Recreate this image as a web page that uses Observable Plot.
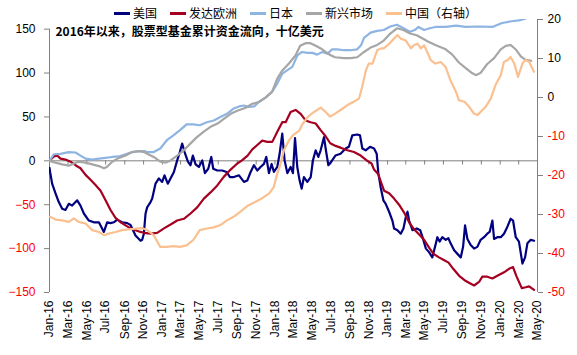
<!DOCTYPE html>
<html><head><meta charset="utf-8">
<script src="https://cdn.jsdelivr.net/npm/d3@7"></script>
<script src="https://cdn.jsdelivr.net/npm/@observablehq/plot@0.6"></script>
<style>
body{margin:0;background:#fff;}
#wrap{position:relative;width:577px;height:355px;}
#legend{position:absolute;top:5px;left:114px;display:flex;align-items:center;font-family:"Noto Sans CJK SC",sans-serif;font-size:12px;line-height:16px;color:#000;white-space:nowrap;}
#legend .item{display:flex;align-items:center;margin-right:13px;}
#legend .sw{width:16px;height:3px;margin-right:3px;}
</style></head>
<body><div id="wrap"><div id="legend"></div></div>
<script>
// months since Jan-2016, value
const usData = [[0,-8],[0.07,-13],[0.28,-26],[0.64,-37],[0.99,-47],[1.35,-54.5],[1.7,-56],[2.06,-49],[2.41,-51],[2.95,-45],[3.3,-51],[3.66,-60],[4.19,-68],[4.72,-70],[5.26,-70],[5.79,-81],[6.14,-70],[6.5,-71],[6.85,-70],[7.21,-67],[7.74,-70],[8.28,-71],[8.63,-73],[9.16,-85],[9.7,-91],[9.87,-90],[10.05,-83],[10.23,-60],[10.4,-53],[10.76,-47],[10.94,-43],[11.29,-26],[11.65,-20],[12.0,-24],[12.25,-16.5],[12.6,-26],[12.96,-18.6],[13.25,-12.7],[13.6,0.5],[13.88,10],[14.13,19.6],[14.39,10],[14.74,-1],[15.02,-5],[15.27,6],[15.56,-4],[15.91,-7],[16.27,0.5],[16.55,-14],[16.91,-9],[17.23,4.4],[17.44,-9],[17.87,-11],[18.4,-11],[18.86,-12.7],[19.22,-18.5],[19.64,-18.5],[20.18,-16.5],[20.71,-24],[21.06,-22.5],[21.42,-12.7],[21.77,-5],[22.13,-11],[22.48,-7],[22.84,-3.5],[23.09,4.4],[23.37,-14],[23.66,-3.6],[23.9,-12.7],[24.26,-7],[24.51,8],[24.79,31],[25.04,0.5],[25.33,-14],[25.68,-7],[25.93,-14],[26.15,26],[26.39,-7],[26.64,-22.5],[26.86,-31.7],[27.1,-18.5],[27.46,-24],[27.82,-18.5],[28.06,0.5],[28.35,12],[28.63,4.4],[28.88,12],[29.24,27],[29.41,14],[29.7,-5],[29.94,-2],[30.45,6],[31.0,8],[31.54,14],[31.89,16],[32.25,29],[32.78,30],[33.07,29],[33.32,14],[33.67,12],[34.14,16],[34.57,14],[34.85,8],[35.02,-14],[35.27,-30],[35.56,-45],[35.81,-49],[36.17,-58],[36.52,-68],[36.7,-77],[37.06,-79],[37.41,-83],[37.7,-77],[37.95,-64],[38.13,-58],[38.3,-68],[38.66,-79],[39.12,-77],[39.48,-79],[39.73,-87],[40.09,-100],[40.42,-104],[40.77,-110],[41.06,-98],[41.31,-87],[41.55,-92],[41.84,-87],[42.2,-90],[42.48,-88],[42.72,-94],[43.1,-102],[43.45,-106],[43.8,-110],[44.05,-98],[44.26,-73.5],[44.51,-89],[44.86,-96],[45.22,-100],[45.57,-98],[45.92,-90],[46.28,-87],[46.63,-83],[46.88,-81],[47.17,-68],[47.35,-89],[47.7,-87],[48.06,-87],[48.41,-83],[48.77,-75],[49.12,-66],[49.37,-68],[49.66,-87],[50.0,-92],[50.37,-117],[50.65,-110],[50.9,-94],[51.26,-90],[51.61,-91]];
const europeData = [[0,0],[0.46,5],[0.82,6],[1.17,2.5],[1.7,1.4],[2.24,-1],[2.77,-5],[3.3,-8.5],[3.84,-16],[4.37,-21.6],[4.9,-27.5],[5.44,-34],[5.97,-45],[6.5,-56],[7.03,-65],[7.57,-70],[8.1,-73.5],[8.63,-77],[9.16,-79],[9.7,-81],[10.05,-82],[10.76,-83],[11.47,-82],[12.19,-77],[12.9,-72.5],[13.6,-68],[14.31,-66],[15.02,-60],[15.73,-53],[16.44,-43],[17.15,-36],[17.87,-28],[18.58,-18],[19.29,-10],[20.0,-3],[20.5,0.5],[21.1,6],[21.6,13],[22.13,18],[22.66,23],[23.2,21.6],[23.73,21.6],[24.26,33],[24.79,44],[25.15,44],[25.68,55.7],[26.21,58],[26.75,53.5],[27.28,46],[27.81,44],[28.35,42.5],[28.88,35],[29.41,28],[29.9,20],[30.47,17],[31.0,15],[31.72,12],[32.43,10],[33.14,6],[33.85,0],[34.3,-3],[34.57,-10],[35.0,-15],[35.3,-24],[35.63,-34],[36.17,-37],[36.7,-43],[37.23,-50],[37.77,-59],[38.3,-70],[38.83,-78],[39.37,-84],[39.9,-90],[40.5,-100],[40.9,-106],[41.48,-110],[42.0,-113],[42.5,-116],[43.0,-123],[43.63,-131],[44.34,-137],[45.22,-142],[45.75,-138],[46.1,-132],[46.63,-132],[47.17,-134],[47.7,-131],[48.41,-127],[48.94,-123],[49.37,-121],[49.72,-131],[50.3,-145],[50.72,-144],[51.08,-143],[51.61,-147]];
const japanData = [[0,0],[0.46,7.5],[1.17,8],[2.06,10],[2.77,9.5],[3.3,6],[3.84,2.5],[4.55,1.4],[5.26,2.5],[5.97,3.4],[6.68,4.4],[7.39,5],[8.1,7.5],[8.81,10],[9.52,11],[10.1,11],[10.4,10],[11.1,10],[11.8,14],[12.5,23.5],[13.2,29],[13.9,35],[14.6,41.6],[15.3,41.6],[16.0,40.5],[16.76,44],[17.5,46],[18.2,50],[18.9,53.5],[19.6,59.5],[20.2,62],[20.7,63],[21.2,61.5],[21.8,62],[22.3,67],[23.0,72],[23.7,78.5],[24.26,88],[24.8,99.4],[25.3,103],[25.86,107],[26.4,120],[26.9,124],[27.46,123],[28.0,123],[28.5,121],[29.06,124],[29.6,122],[30.1,127],[30.65,127],[31.36,126],[32.07,126],[32.78,127],[33.2,132],[33.5,140],[34.2,146],[34.9,148],[35.6,149],[36.3,153],[37.0,155],[37.7,151],[38.4,147],[38.9,149],[39.3,152.5],[39.9,149],[40.5,151],[41.1,152.5],[42.2,152.5],[43.3,154],[44.3,152.5],[45.75,153],[47.17,152.5],[48.2,157],[49.2,159],[50.0,160],[50.7,162]];
const emData = [[0,0],[0.64,-2],[1.35,-4],[2.06,-5.5],[2.6,-3],[3.1,-1],[3.84,-2],[4.55,-4],[5.26,-6],[5.8,-8.5],[6.1,-7],[6.68,-1],[7.39,3.4],[8.1,6],[8.81,10],[9.52,11],[10.1,10],[10.4,8],[11.1,4.4],[11.8,-1],[12.4,-2],[12.9,0.5],[13.6,6],[14.3,12],[15.0,19.6],[15.7,27],[16.4,33],[17.15,38.7],[17.9,42.5],[18.6,48],[19.3,53.5],[20.0,57],[20.9,60.5],[21.6,65],[22.3,67],[23.0,72],[23.7,78.5],[24.26,93.7],[24.8,103],[25.5,110.8],[26.2,120],[26.7,131],[27.28,134],[27.8,134],[28.35,131],[28.9,128],[29.4,124],[29.9,120.6],[30.4,118],[31.36,117],[32.07,117],[32.78,118],[33.5,124],[34.2,129],[34.9,132],[35.6,137],[36.3,145],[37.0,151],[37.7,149],[38.4,145],[39.1,143],[39.8,139],[40.3,136],[41.1,132],[42.2,127],[42.9,121],[43.6,112],[44.3,106],[45.0,100],[45.4,97.6],[45.9,100],[46.6,110],[47.35,117],[48.06,127],[48.6,131],[49.1,132],[49.7,126.5],[50.2,119],[50.7,115],[51.3,114]];
const chinaData = [[0.07,-30.6],[0.64,-31.3],[1.35,-31.5],[2.06,-31.9],[2.6,-31],[3.1,-31.9],[3.84,-32.3],[4.55,-34],[5.26,-34.5],[5.8,-35.3],[6.3,-34.9],[7.03,-34.5],[7.74,-34],[8.45,-33.8],[9.16,-33.6],[9.9,-33.5],[10.4,-34],[11.1,-35.3],[11.8,-38.3],[12.5,-38.3],[13.2,-38.1],[13.9,-38.3],[14.6,-37.9],[15.3,-36.6],[16.0,-34],[16.76,-33.6],[17.5,-33.3],[18.2,-32.7],[18.9,-31.5],[19.6,-30.6],[20.3,-29.3],[21.2,-27.6],[21.9,-26.8],[22.6,-25.9],[23.4,-24.6],[23.9,-22.9],[24.26,-19.5],[24.6,-17],[24.97,-13.5],[25.5,-11],[26.0,-9.5],[26.6,-8.5],[26.9,-7],[27.5,-5],[28.0,-4],[28.5,-3.2],[28.9,-2.6],[29.4,-3.7],[29.9,-4.9],[30.5,-4],[31.0,-3.2],[31.7,-2],[32.4,-1.1],[32.96,-0.3],[33.3,2.7],[33.7,7],[34.0,8.7],[34.4,8.7],[34.9,12.1],[35.3,12.6],[35.6,12.6],[36.2,13.8],[36.7,15.1],[37.06,16],[37.4,15.1],[37.95,14.6],[38.5,12.6],[38.8,13.4],[39.2,13.8],[39.55,12.6],[39.9,13.4],[40.3,11.3],[40.6,9.6],[41.1,8.7],[41.66,9.1],[42.2,7.8],[42.7,4.4],[43.3,1.4],[43.6,-0.7],[44.2,-1.1],[44.7,-2.4],[45.2,-4.1],[45.6,-4.5],[45.9,-3.7],[46.45,-2.4],[47.0,-0.3],[47.5,3.2],[48.06,5.7],[48.4,9.1],[48.8,9.6],[49.1,10.4],[49.5,8.7],[49.9,5.3],[50.37,8.7],[50.7,9.6],[51.1,9.1],[51.6,6.6]];

const seriesNames = ["美国","发达欧洲","日本","新兴市场","中国（右轴）"];
const seriesColors = ["#000080","#A50021","#8DB4E2","#A6A6A6","#FAC090"];
const leftTicks = [150,100,50,0,-50,-100,-150];
const rightTicks = [20,10,0,-10,-20,-30,-40,-50];
const titleText = "2016年以来，股票型基金累计资金流向，十亿美元";

const T0 = Date.UTC(2016,0,1);
const toDate = m => new Date(T0 + m*30.4375*864e5);
const xStart = new Date(Date.UTC(2016,0,1)), xEnd = new Date(Date.UTC(2020,4,1));
const xTicks = d3.utcMonth.every(2).range(xStart, new Date(Date.UTC(2020,5,1)));
const yTop = 161;
const r2l = v => -150 + (v + 50) * (yTop + 150) / 70;
const l2r = u => Math.round((u + 150) * 70 / (yTop + 150) - 50);

const axisFont = "Liberation Sans, Arial, sans-serif";
const seriesList = [usData, europeData, japanData, emData, chinaData];

const lineMarks = seriesList.map((s, i) => Plot.line(s, {
  x: d => toDate(d[0]),
  y: i === 4 ? d => r2l(d[1]) : d => d[1],
  stroke: seriesColors[i], strokeWidth: 2.2, clip: true, strokeLinejoin: "round"
}));

const chart = Plot.plot({
  width: 577, height: 355,
  marginLeft: 49, marginRight: 40, marginTop: 19, marginBottom: 63,
  style: {fontFamily: axisFont, fontSize: "12px", background: "#fff"},
  x: {type: "utc", domain: [xStart, xEnd], axis: null},
  y: {domain: [-150, yTop], axis: null},
  marks: [
    Plot.ruleY([0], {stroke: "#808080", strokeWidth: 1}),
    Plot.ruleX(xTicks, {x: d => d, y1: 0, y2: -4.8, stroke: "#808080"}),
    Plot.ruleX([xStart], {y1: -150, y2: 150, stroke: "#808080"}),
    Plot.ruleX([xEnd], {y1: -150, y2: yTop, stroke: "#808080"}),
    Plot.axisY(leftTicks.filter(d => d >= 0), {anchor: "left", tickSize: 5, tickPadding: 9, stroke: "#808080", fill: "#000", fontSize: 12}),
    Plot.axisY(leftTicks.filter(d => d < 0), {anchor: "left", tickSize: 5, tickPadding: 9, stroke: "#808080", fill: "#FF0000", fontSize: 12}),
    Plot.axisY(rightTicks.filter(d => d >= 0).map(r2l), {anchor: "right", tickSize: 5, tickPadding: 5, stroke: "#808080", fill: "#000", fontSize: 12, tickFormat: l2r}),
    Plot.axisY(rightTicks.filter(d => d < 0).map(r2l), {anchor: "right", tickSize: 5, tickPadding: 5, stroke: "#808080", fill: "#FF0000", fontSize: 12, tickFormat: l2r}),
    Plot.axisX(xTicks, {anchor: "bottom", tickSize: 0, tickPadding: 8, tickRotate: -90, tickFormat: d3.utcFormat("%b-%y"), fill: "#000", fontSize: 12}),
    ...lineMarks,
    Plot.text([titleText], {text: d => d, frameAnchor: "top-left", textAnchor: "start", lineAnchor: "middle", dx: 6, dy: 13, fontWeight: "bold", fontSize: 12, fontFamily: "Noto Sans CJK SC, sans-serif", fill: "#000"})
  ]
});
const wrap = document.getElementById("wrap");
wrap.insertBefore(chart, wrap.firstChild);

const legend = document.getElementById("legend");
seriesNames.forEach((n, i) => {
  const item = document.createElement("div");
  item.className = "item";
  const sw = document.createElement("span");
  sw.className = "sw"; sw.style.background = seriesColors[i];
  const tx = document.createElement("span");
  tx.textContent = n;
  item.appendChild(sw); item.appendChild(tx);
  legend.appendChild(item);
});
</script>
</body></html>
